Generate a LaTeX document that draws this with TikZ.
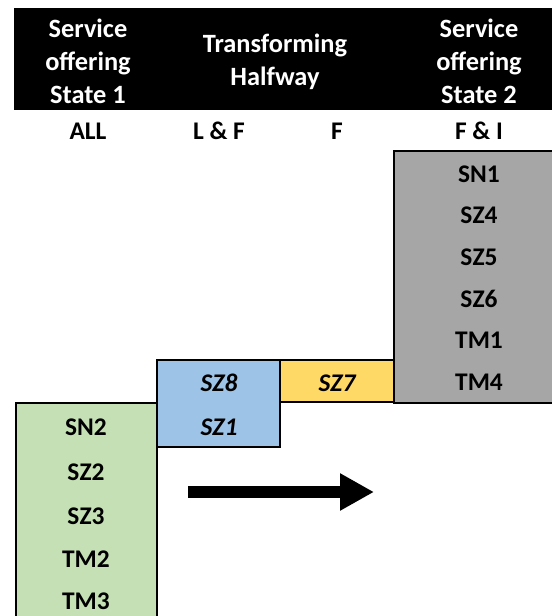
\documentclass[tikz,border=0pt]{standalone}
\usepackage{fontspec}
\setmainfont{Carlito}
\usetikzlibrary{arrows.meta}
\definecolor{boxgray}{HTML}{A6A6A6}
\definecolor{boxblue}{HTML}{9DC3E6}
\definecolor{boxyellow}{HTML}{FFD966}
\definecolor{boxgreen}{HTML}{C5E0B4}
\begin{document}
\begin{tikzpicture}[x=1bp,y=-1bp,
  headtxt/.style={text=white,font=\bfseries\fontsize{26.5}{33}\selectfont,align=center,inner sep=0pt},
  coltxt/.style={font=\bfseries\fontsize{25.5}{30}\selectfont,inner sep=0pt},
  itemtxt/.style={font=\bfseries\fontsize{25.5}{30}\selectfont,inner sep=0pt},
  itemit/.style={font=\bfseries\itshape\fontsize{25.5}{30}\selectfont,inner sep=0pt},
  panel/.style={draw=black,line width=1.5bp}]
\useasboundingbox (0,0) rectangle (552,616);
\clip (0,0) rectangle (552,616);
% header band
\fill[black] (14,8) rectangle (560,110);
\node[headtxt] (h1) at (88,61) {Service\\offering\\State 1};
\node[headtxt] (h2) at (275,61.5) {Transforming\\Halfway};
\node[headtxt] (h3) at (479,61) {Service\\offering\\State 2};
% column labels
\node[coltxt] (c1) at (88,131) {ALL};
\node[coltxt] (c2) at (219,131) {L \& F};
\node[coltxt] (c3) at (337,131) {F};
\node[coltxt] (c4) at (479,131) {F \& I};
% panels
\path[panel,fill=boxgreen] (16,403) rectangle (157,630);
\path[panel,fill=boxblue] (157,360) rectangle (280,447);
\path[panel,fill=boxyellow] (280,360) rectangle (394,402);
\path[panel,fill=boxgray] (394,151) rectangle (560,403);
% state 2 items
\foreach \t/\y [count=\i] in {SN1/174,SZ4/215.5,SZ5/257,SZ6/298.5,TM1/340,TM4/382}
  \node[itemtxt] (g\i) at (479,\y) {\t};
% halfway items
\node[itemit] (b1) at (219,383) {SZ8};
\node[itemit] (b2) at (219,427) {SZ1};
\node[itemit] (y1) at (337,383) {SZ7};
% state 1 items
\foreach \t/\y [count=\i] in {SN2/427,SZ2/472,SZ3/516,TM2/559,TM3/601}
  \node[itemtxt] (s\i) at (86,\y) {\t};
% direction arrow
\coordinate (arrowstart) at (188,492);
\coordinate (arrowend) at (374,492);
\draw[line width=12bp,-{Triangle[length=34bp,width=35bp]}] (arrowstart) -- (arrowend);
\end{tikzpicture}
\end{document}
